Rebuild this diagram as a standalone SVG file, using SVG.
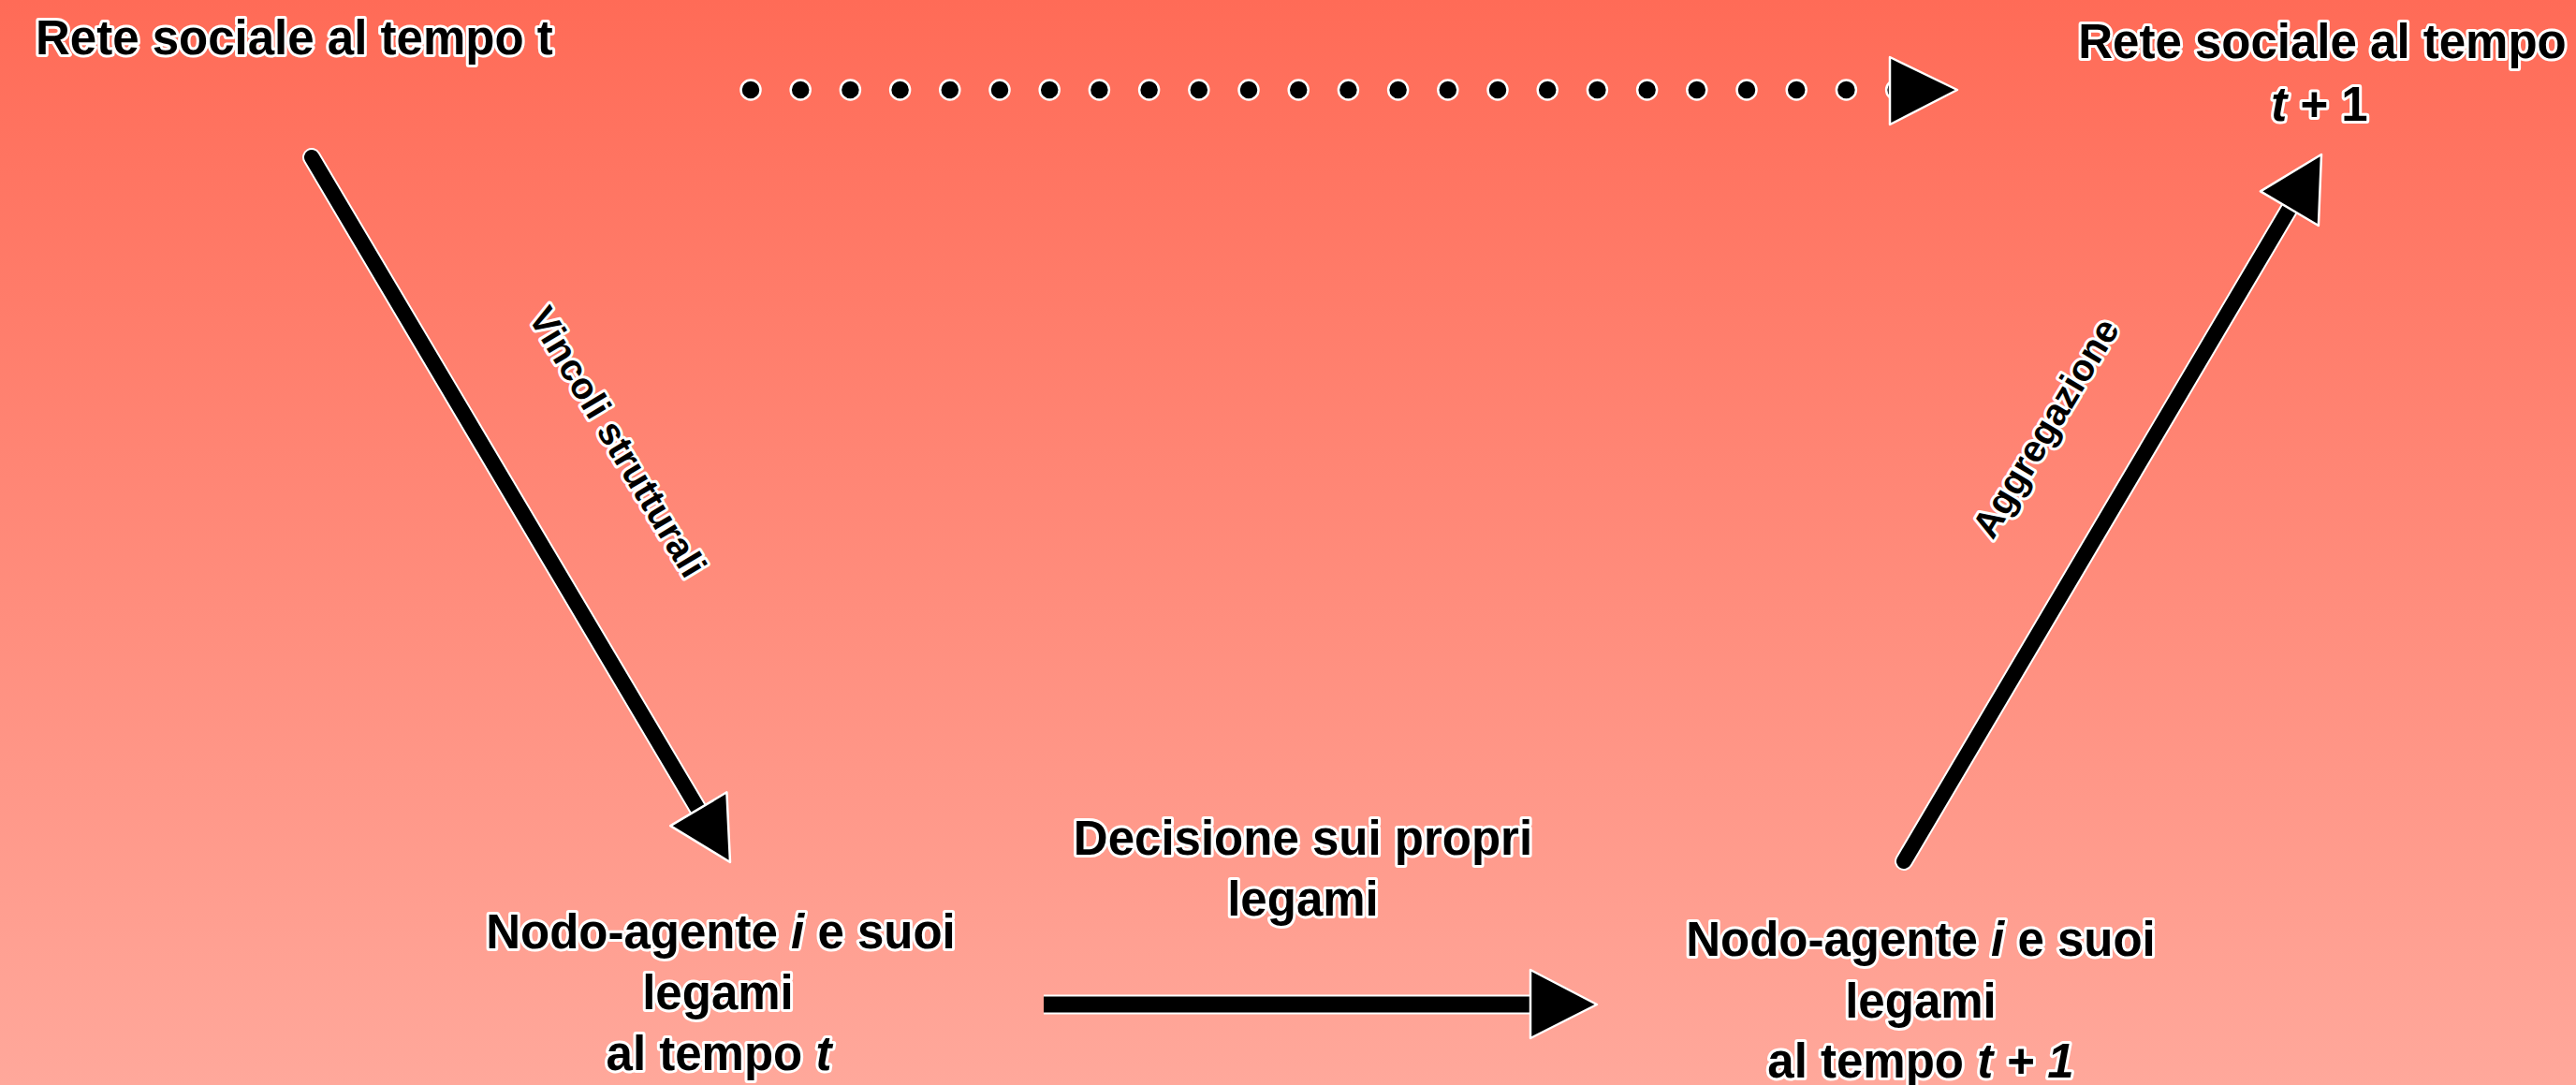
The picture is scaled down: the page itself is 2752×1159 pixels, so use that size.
<svg xmlns="http://www.w3.org/2000/svg" width="2752" height="1159" viewBox="0 0 2752 1159">
<defs>
<linearGradient id="bg" x1="0" y1="0" x2="0" y2="1">
<stop offset="0" stop-color="#FF6B57"/>
<stop offset="1" stop-color="#FFA89B"/>
</linearGradient>
<style>
.t{font-family:"Liberation Sans",Arial,sans-serif;font-weight:bold;font-size:51px;fill:#000;stroke:#fff;stroke-width:6;stroke-linejoin:round;paint-order:stroke}
.m{text-anchor:middle}
.s{font-size:40px}
.shaft{fill:none;stroke:#000;stroke-linecap:round}
.halo{fill:none;stroke:#fff;stroke-linecap:round}
.head{fill:#000;stroke:#fff;stroke-width:2.5;stroke-linejoin:round}
.dot{fill:#000;stroke:#fff;stroke-width:2.5}
</style>
</defs>
<rect x="0" y="0" width="2752" height="1159" fill="url(#bg)"/>

<g id="connectors">
  <g id="dotted">
    <circle class="dot" cx="802" cy="96" r="10.5"/>
    <circle class="dot" cx="855.2" cy="96" r="10.5"/>
    <circle class="dot" cx="908.4" cy="96" r="10.5"/>
    <circle class="dot" cx="961.6" cy="96" r="10.5"/>
    <circle class="dot" cx="1014.8" cy="96" r="10.5"/>
    <circle class="dot" cx="1068" cy="96" r="10.5"/>
    <circle class="dot" cx="1121.2" cy="96" r="10.5"/>
    <circle class="dot" cx="1174.4" cy="96" r="10.5"/>
    <circle class="dot" cx="1227.6" cy="96" r="10.5"/>
    <circle class="dot" cx="1280.8" cy="96" r="10.5"/>
    <circle class="dot" cx="1334" cy="96" r="10.5"/>
    <circle class="dot" cx="1387.2" cy="96" r="10.5"/>
    <circle class="dot" cx="1440.4" cy="96" r="10.5"/>
    <circle class="dot" cx="1493.6" cy="96" r="10.5"/>
    <circle class="dot" cx="1546.8" cy="96" r="10.5"/>
    <circle class="dot" cx="1600" cy="96" r="10.5"/>
    <circle class="dot" cx="1653.2" cy="96" r="10.5"/>
    <circle class="dot" cx="1706.4" cy="96" r="10.5"/>
    <circle class="dot" cx="1759.6" cy="96" r="10.5"/>
    <circle class="dot" cx="1812.8" cy="96" r="10.5"/>
    <circle class="dot" cx="1866" cy="96" r="10.5"/>
    <circle class="dot" cx="1919.2" cy="96" r="10.5"/>
    <circle class="dot" cx="1972.4" cy="96" r="10.5"/>
    <circle class="dot" cx="2025.6" cy="96" r="10.5"/>
    <polygon class="head" points="2019,61 2091,96 2019,133"/>
  </g>
  <g id="arrow-left">
    <line class="halo" stroke-width="20" x1="333" y1="168" x2="751" y2="873"/>
    <line class="shaft" stroke-width="16" x1="333" y1="168" x2="751" y2="873"/>
    <polygon class="head" points="780,921 716.2,882.1 776.4,846.3"/>
  </g>
  <g id="arrow-bottom">
    <line class="halo" stroke-width="21" x1="1115" y1="1073" x2="1645" y2="1073" style="stroke-linecap:butt"/>
    <line class="shaft" stroke-width="17" x1="1115" y1="1073" x2="1645" y2="1073" style="stroke-linecap:butt"/>
    <polygon class="head" points="1635,1036 1706,1073 1635,1109"/>
  </g>
  <g id="arrow-right">
    <line class="halo" stroke-width="20" x1="2034" y1="920" x2="2451" y2="214"/>
    <line class="shaft" stroke-width="16" x1="2034" y1="920" x2="2451" y2="214"/>
    <polygon class="head" points="2480,165 2476.9,241 2414.9,204.4"/>
  </g>
  <text class="t s m" transform="translate(660,472) rotate(59)" x="0" y="14">Vincoli strutturali</text>
  <text class="t s m" transform="translate(2185,457) rotate(-59)" x="0" y="14">Aggregazione</text>
  <text class="t m" x="1392" y="913">Decisione sui propri</text>
  <text class="t m" x="1392" y="978">legami</text>
</g>

<g id="node-rete-t">
  <text class="t" x="38" y="58">Rete sociale al tempo t</text>
</g>

<g id="node-rete-t1">
  <text class="t m" x="2481" y="62">Rete sociale al tempo</text>
  <text class="t m" x="2478" y="129"><tspan font-style="italic">t</tspan> + 1</text>
</g>

<g id="node-agente-t">
  <text class="t m" x="770" y="1013">Nodo-agente <tspan font-style="italic">i</tspan> e suoi</text>
  <text class="t m" x="767" y="1078">legami</text>
  <text class="t m" x="768" y="1143">al tempo <tspan font-style="italic">t</tspan></text>
</g>

<g id="node-agente-t1">
  <text class="t m" x="2052" y="1021">Nodo-agente <tspan font-style="italic">i</tspan> e suoi</text>
  <text class="t m" x="2052" y="1087">legami</text>
  <text class="t m" x="2052" y="1151">al tempo <tspan font-style="italic">t + 1</tspan></text>
</g>
</svg>
